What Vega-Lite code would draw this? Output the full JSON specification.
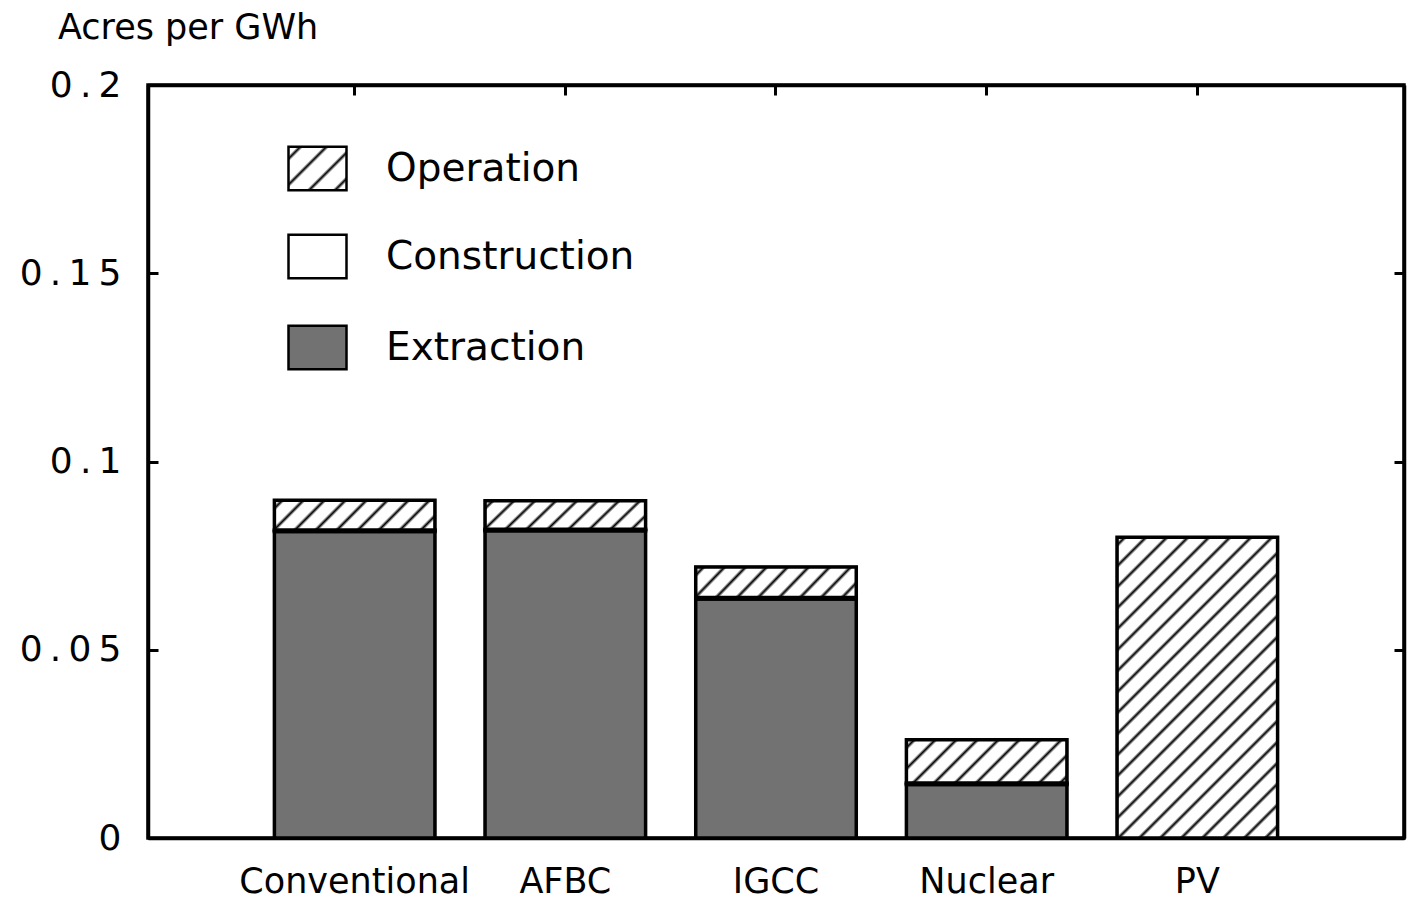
{
  "$schema": "https://vega.github.io/schema/vega-lite/v6.json",
  "autosize": {"type": "none"},
  "padding": {"left": 148, "top": 85, "right": 3, "bottom": 65},
  "width": 1256,
  "height": 753,
  "background": "white",
  "title": {"text": "Acres per GWh", "anchor": "start", "frame": "group", "dx": -90, "offset": 21, "font": "DejaVu Sans", "fontSize": 35, "fontWeight": "normal", "color": "black"},
  "config": {
    "view": {"stroke": "black", "strokeWidth": 3.5},
    "axis": {"grid": false, "domainColor": "black", "domainWidth": 3.5, "tickColor": "black", "tickWidth": 3, "tickSize": -10, "labelColor": "black", "labelFont": "DejaVu Sans", "title": null},
    "legend": {"title": null, "padding": 0, "rowPadding": 33, "symbolType": "M-1,-0.75H1V0.75H-1Z", "symbolSize": 3364,
               "labelFont": "DejaVu Sans", "labelFontSize": 39, "labelColor": "black", "labelOffset": 38, "labelLimit": 600,
               "symbolStrokeWidth": 2.5}
  },
  "data": {"values": [
    {"cat": "Conventional", "series": "Extraction", "value": 0.0814},
    {"cat": "Conventional", "series": "Construction", "value": 0.0004},
    {"cat": "Conventional", "series": "Operation", "value": 0.0079},
    {"cat": "AFBC", "series": "Extraction", "value": 0.0816},
    {"cat": "AFBC", "series": "Construction", "value": 0.0004},
    {"cat": "AFBC", "series": "Operation", "value": 0.0076},
    {"cat": "IGCC", "series": "Extraction", "value": 0.0635},
    {"cat": "IGCC", "series": "Construction", "value": 0.0004},
    {"cat": "IGCC", "series": "Operation", "value": 0.0081},
    {"cat": "Nuclear", "series": "Extraction", "value": 0.0142},
    {"cat": "Nuclear", "series": "Construction", "value": 0.0004},
    {"cat": "Nuclear", "series": "Operation", "value": 0.0115},
    {"cat": "PV", "series": "Operation", "value": 0.0799}
  ]},
  "transform": [{"calculate": "indexof(['Extraction','Construction','Operation'], datum.series)", "as": "stackOrder"}],
  "layer": [
    {
      "mark": {"type": "bar", "stroke": "black", "strokeWidth": 2.5,
               "fill": {"gradient": "linear", "x1": 0, "y1": 0, "x2": 1.12, "y2": 0.84, "stops": [
                 {"offset": 0, "color": "white"},
                 {"offset": 0.0847, "color": "white"}, {"offset": 0.1182, "color": "#000"}, {"offset": 0.1517, "color": "white"},
                 {"offset": 0.3409, "color": "white"}, {"offset": 0.3744, "color": "#000"}, {"offset": 0.4079, "color": "white"},
                 {"offset": 0.5970, "color": "white"}, {"offset": 0.6305, "color": "#000"}, {"offset": 0.6640, "color": "white"},
                 {"offset": 0.8532, "color": "white"}, {"offset": 0.8867, "color": "#000"}, {"offset": 0.9202, "color": "white"},
                 {"offset": 1, "color": "white"}]}},
      "encoding": {
        "x": {"field": "cat", "type": "nominal", "sort": ["Conventional", "AFBC", "IGCC", "Nuclear", "PV"], "axis": null},
        "y": {"field": "value", "type": "quantitative", "stack": "zero", "axis": null},
        "order": {"field": "stackOrder", "type": "quantitative"},
        "stroke": {"value": "black"},
        "opacity": {"field": "series", "type": "nominal",
                    "scale": {"domain": ["Operation"], "range": [1]},
                    "legend": {"orient": "none", "legendX": 139, "legendY": 53}}
      }
    },
    {
      "mark": {"type": "bar", "stroke": "black", "strokeWidth": 3.5},
      "encoding": {
        "x": {"field": "cat", "type": "nominal", "sort": ["Conventional", "AFBC", "IGCC", "Nuclear", "PV"],
              "scale": {"paddingInner": 0.238, "paddingOuter": 0.6},
              "axis": {"orient": "bottom", "labelAngle": 0, "labelFontSize": 35, "labelPadding": 36, "labelLimit": 400}},
        "y": {"field": "value", "type": "quantitative", "stack": "zero",
              "scale": {"domain": [0, 0.2], "nice": false},
              "axis": {"orient": "left", "values": [0, 0.05, 0.1, 0.15, 0.2], "labelFontSize": 36, "labelPadding": 37,
                       "labelExpr": "join(split(format(datum.value, '~g'), ''), '\u2009')"}},
        "order": {"field": "stackOrder", "type": "quantitative"},
        "fill": {
          "field": "series", "type": "nominal",
          "scale": {"domain": ["Construction", "Extraction"], "range": ["#ffffff", "#727272"]},
          "legend": {"orient": "none", "legendX": 139, "legendY": 141, "symbolStrokeColor": "black"},
          "condition": [
            {"test": "datum.series === 'Operation' && datum.cat === 'PV'", "value": {"gradient": "linear", "x1": 0, "y1": 0, "x2": 0.637, "y2": 1.1939, "stops": [
              {"offset": 0, "color": "white"},
              {"offset": 0.0099, "color": "white"}, {"offset": 0.0173, "color": "#000"}, {"offset": 0.0247, "color": "white"},
              {"offset": 0.0555, "color": "white"}, {"offset": 0.0629, "color": "#000"}, {"offset": 0.0703, "color": "white"},
              {"offset": 0.1010, "color": "white"}, {"offset": 0.1084, "color": "#000"}, {"offset": 0.1158, "color": "white"},
              {"offset": 0.1465, "color": "white"}, {"offset": 0.1539, "color": "#000"}, {"offset": 0.1613, "color": "white"},
              {"offset": 0.1920, "color": "white"}, {"offset": 0.1994, "color": "#000"}, {"offset": 0.2068, "color": "white"},
              {"offset": 0.2376, "color": "white"}, {"offset": 0.2450, "color": "#000"}, {"offset": 0.2524, "color": "white"},
              {"offset": 0.2831, "color": "white"}, {"offset": 0.2905, "color": "#000"}, {"offset": 0.2979, "color": "white"},
              {"offset": 0.3286, "color": "white"}, {"offset": 0.3360, "color": "#000"}, {"offset": 0.3434, "color": "white"},
              {"offset": 0.3741, "color": "white"}, {"offset": 0.3815, "color": "#000"}, {"offset": 0.3889, "color": "white"},
              {"offset": 0.4197, "color": "white"}, {"offset": 0.4271, "color": "#000"}, {"offset": 0.4345, "color": "white"},
              {"offset": 0.4652, "color": "white"}, {"offset": 0.4726, "color": "#000"}, {"offset": 0.4800, "color": "white"},
              {"offset": 0.5107, "color": "white"}, {"offset": 0.5181, "color": "#000"}, {"offset": 0.5255, "color": "white"},
              {"offset": 0.5562, "color": "white"}, {"offset": 0.5636, "color": "#000"}, {"offset": 0.5710, "color": "white"},
              {"offset": 0.6018, "color": "white"}, {"offset": 0.6092, "color": "#000"}, {"offset": 0.6166, "color": "white"},
              {"offset": 0.6473, "color": "white"}, {"offset": 0.6547, "color": "#000"}, {"offset": 0.6621, "color": "white"},
              {"offset": 0.6928, "color": "white"}, {"offset": 0.7002, "color": "#000"}, {"offset": 0.7076, "color": "white"},
              {"offset": 0.7383, "color": "white"}, {"offset": 0.7457, "color": "#000"}, {"offset": 0.7531, "color": "white"},
              {"offset": 0.7839, "color": "white"}, {"offset": 0.7913, "color": "#000"}, {"offset": 0.7987, "color": "white"},
              {"offset": 0.8294, "color": "white"}, {"offset": 0.8368, "color": "#000"}, {"offset": 0.8442, "color": "white"},
              {"offset": 0.8749, "color": "white"}, {"offset": 0.8823, "color": "#000"}, {"offset": 0.8897, "color": "white"},
              {"offset": 0.9204, "color": "white"}, {"offset": 0.9278, "color": "#000"}, {"offset": 0.9352, "color": "white"},
              {"offset": 0.9660, "color": "white"}, {"offset": 0.9734, "color": "#000"}, {"offset": 0.9808, "color": "white"},
              {"offset": 1, "color": "white"}]}},
            {"test": "datum.series === 'Operation' && datum.cat === 'Nuclear'", "value": {"gradient": "linear", "x1": 0, "y1": 0, "x2": 1.1837, "y2": 0.3193, "stops": [
              {"offset": 0, "color": "white"},
              {"offset": 0.0226, "color": "white"}, {"offset": 0.0393, "color": "#000"}, {"offset": 0.0560, "color": "white"},
              {"offset": 0.1256, "color": "white"}, {"offset": 0.1423, "color": "#000"}, {"offset": 0.1590, "color": "white"},
              {"offset": 0.2286, "color": "white"}, {"offset": 0.2453, "color": "#000"}, {"offset": 0.2620, "color": "white"},
              {"offset": 0.3317, "color": "white"}, {"offset": 0.3484, "color": "#000"}, {"offset": 0.3651, "color": "white"},
              {"offset": 0.4347, "color": "white"}, {"offset": 0.4514, "color": "#000"}, {"offset": 0.4681, "color": "white"},
              {"offset": 0.5378, "color": "white"}, {"offset": 0.5545, "color": "#000"}, {"offset": 0.5712, "color": "white"},
              {"offset": 0.6408, "color": "white"}, {"offset": 0.6575, "color": "#000"}, {"offset": 0.6742, "color": "white"},
              {"offset": 0.7438, "color": "white"}, {"offset": 0.7605, "color": "#000"}, {"offset": 0.7772, "color": "white"},
              {"offset": 0.8469, "color": "white"}, {"offset": 0.8636, "color": "#000"}, {"offset": 0.8803, "color": "white"},
              {"offset": 0.9499, "color": "white"}, {"offset": 0.9666, "color": "#000"}, {"offset": 0.9833, "color": "white"},
              {"offset": 1, "color": "white"}]}},
            {"test": "datum.series === 'Operation'", "value": {"gradient": "linear", "x1": 0, "y1": 0, "x2": 1.1452, "y2": 0.2105, "stops": [
              {"offset": 0, "color": "white"},
              {"offset": 0.0242, "color": "white"}, {"offset": 0.0421, "color": "#000"}, {"offset": 0.0600, "color": "white"},
              {"offset": 0.1347, "color": "white"}, {"offset": 0.1526, "color": "#000"}, {"offset": 0.1705, "color": "white"},
              {"offset": 0.2453, "color": "white"}, {"offset": 0.2632, "color": "#000"}, {"offset": 0.2811, "color": "white"},
              {"offset": 0.3558, "color": "white"}, {"offset": 0.3737, "color": "#000"}, {"offset": 0.3916, "color": "white"},
              {"offset": 0.4663, "color": "white"}, {"offset": 0.4842, "color": "#000"}, {"offset": 0.5021, "color": "white"},
              {"offset": 0.5768, "color": "white"}, {"offset": 0.5947, "color": "#000"}, {"offset": 0.6126, "color": "white"},
              {"offset": 0.6874, "color": "white"}, {"offset": 0.7053, "color": "#000"}, {"offset": 0.7232, "color": "white"},
              {"offset": 0.7979, "color": "white"}, {"offset": 0.8158, "color": "#000"}, {"offset": 0.8337, "color": "white"},
              {"offset": 0.9084, "color": "white"}, {"offset": 0.9263, "color": "#000"}, {"offset": 0.9442, "color": "white"},
              {"offset": 1, "color": "white"}]}}
          ]
        }
      }
    },
    {
      "mark": {"type": "bar", "opacity": 0},
      "encoding": {
        "x": {"field": "cat", "type": "nominal", "sort": ["Conventional", "AFBC", "IGCC", "Nuclear", "PV"],
              "axis": {"orient": "top", "labels": false}},
        "y": {"field": "value", "type": "quantitative", "stack": "zero",
              "axis": {"orient": "right", "labels": false, "values": [0, 0.05, 0.1, 0.15, 0.2]}}
      }
    }
  ],
  "resolve": {"axis": {"x": "independent", "y": "independent"}}
}
